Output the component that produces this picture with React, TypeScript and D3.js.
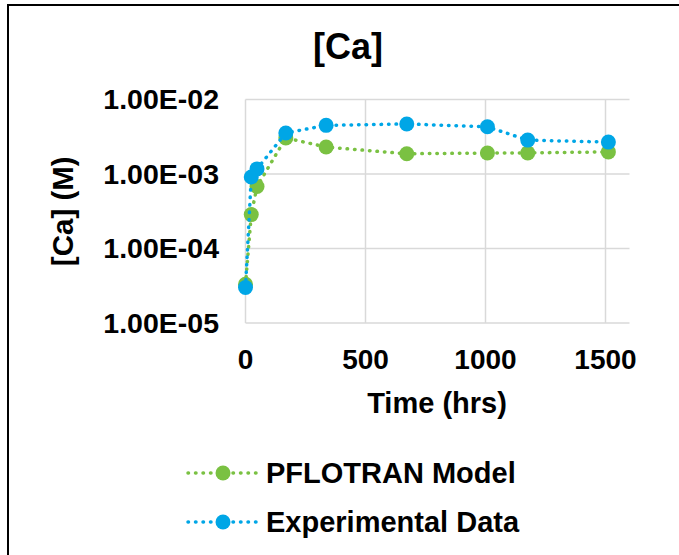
import React from "react";
import * as d3 from "d3";

const timeHrs = [0, 24, 48, 168, 336, 672, 1008, 1176, 1512];
const modelCa = [3.3e-5, 2.85e-4, 6.8e-4, 3.05e-3, 2.3e-3, 1.87e-3, 1.91e-3, 1.92e-3, 1.98e-3];
const expCa = [3.0e-5, 9.1e-4, 1.17e-3, 3.55e-3, 4.5e-3, 4.7e-3, 4.3e-3, 2.85e-3, 2.68e-3];
const yTicks = [1e-5, 1e-4, 1e-3, 1e-2];
const yTickLabels = ["1.00E-05", "1.00E-04", "1.00E-03", "1.00E-02"];
const xTicks = [0, 500, 1000, 1500];
const seriesNames = ["PFLOTRAN Model", "Experimental Data"];
const seriesColors = ["#7AC142", "#00A6E6"];

const W = 679;
const H = 555;
const FONT = "'Liberation Sans', Arial, sans-serif";

export default function App() {
  const x = d3.scaleLinear().domain([0, 1600]).range([245.5, 629.5]);
  const y = d3.scaleLog().domain([1e-5, 1e-2]).range([323, 99.5]);
  const series = [modelCa, expCa];
  const line = d3
    .line<number>()
    .x((_, i) => x(timeHrs[i]))
    .y((d) => y(d));
  const dash = "0.5 7";
  const legendY = [473, 522];

  return (
    <svg
      width={W}
      height={H}
      style={{ position: "absolute", left: 0, top: 0, background: "#fff" }}
      fontFamily={FONT}
      fontWeight="bold"
    >
      <rect x={0} y={0} width={W} height={H} fill="#fff" />
      <rect x={8} y={5} width={W + 20} height={H + 20} fill="none" stroke="#000" strokeWidth={2} />

      {/* gridlines */}
      {yTicks.map((t) => (
        <line key={"gy" + t} x1={x(0)} x2={x(1600)} y1={y(t)} y2={y(t)} stroke="#D9D9D9" strokeWidth={1.5} />
      ))}
      {xTicks.map((t) => (
        <line key={"gx" + t} x1={x(t)} x2={x(t)} y1={y(1e-5)} y2={y(1e-2)} stroke="#D9D9D9" strokeWidth={1.5} />
      ))}

      {/* tick labels */}
      {yTicks.map((t, i) => (
        <text key={"ty" + t} x={219} y={y(t)} dy="0.35em" textAnchor="end" fontSize={28.5} fill="#000">
          {yTickLabels[i]}
        </text>
      ))}
      {xTicks.map((t) => (
        <text key={"tx" + t} x={x(t)} y={369} textAnchor="middle" fontSize={28} fill="#000">
          {t}
        </text>
      ))}

      {/* title & axis titles */}
      <text x={348} y={59} textAnchor="middle" fontSize={36} fill="#000">
        [Ca]
      </text>
      <text x={437} y={413} textAnchor="middle" fontSize={29} fill="#000">
        Time (hrs)
      </text>
      <text
        transform={`translate(73, ${(y(1e-5) + y(1e-2)) / 2}) rotate(-90)`}
        textAnchor="middle"
        fontSize={29.5}
        fill="#000"
      >
        [Ca] (M)
      </text>

      {/* series */}
      {series.map((vals, s) => (
        <g key={"s" + s}>
          <path
            d={line(vals) || ""}
            fill="none"
            stroke={seriesColors[s]}
            strokeWidth={3.5}
            strokeLinecap="round"
            strokeDasharray={dash}
          />
          {vals.map((v, i) => (
            <circle key={i} cx={x(timeHrs[i])} cy={y(v)} r={7.5} fill={seriesColors[s]} />
          ))}
        </g>
      ))}

      {/* legend */}
      {seriesNames.map((name, s) => (
        <g key={"l" + s}>
          <line
            x1={188}
            x2={258}
            y1={legendY[s]}
            y2={legendY[s]}
            stroke={seriesColors[s]}
            strokeWidth={3.5}
            strokeLinecap="round"
            strokeDasharray={dash}
          />
          <circle cx={223} cy={legendY[s]} r={7.5} fill={seriesColors[s]} />
          <text x={266} y={legendY[s]} dy="0.35em" fontSize={29} fill="#000">
            {name}
          </text>
        </g>
      ))}
    </svg>
  );
}
